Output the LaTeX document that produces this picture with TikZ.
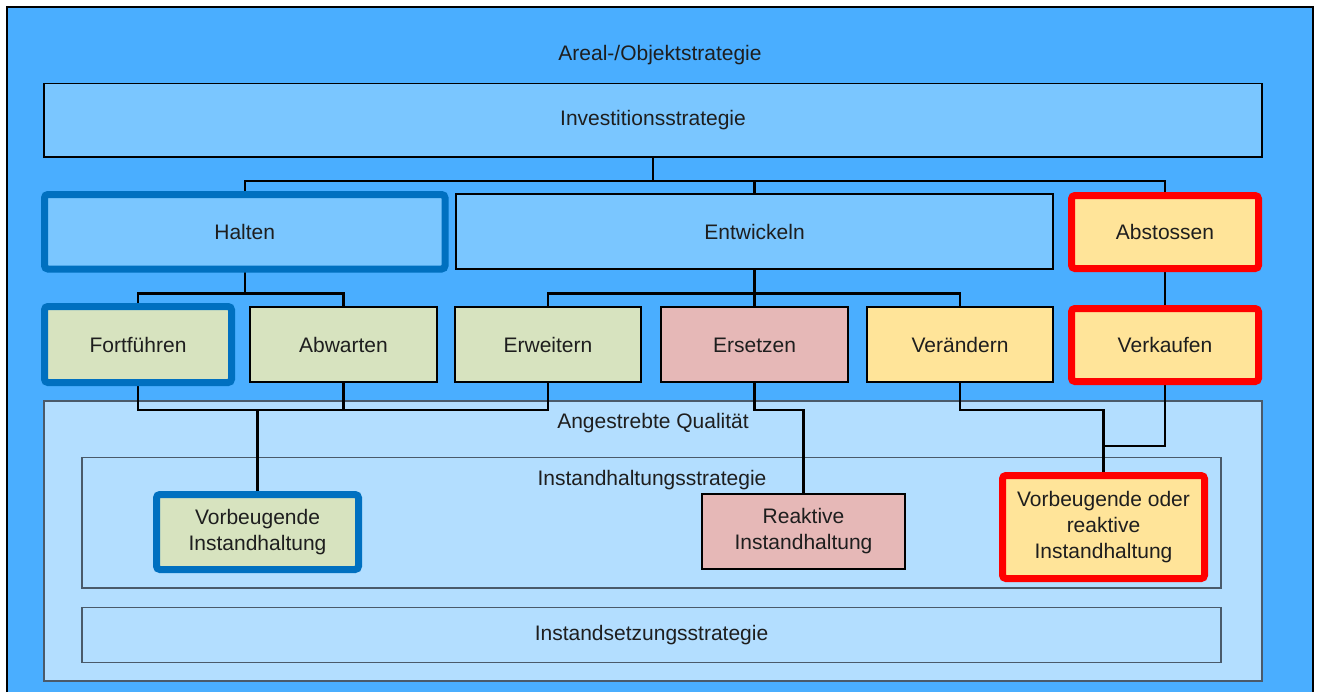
\documentclass[tikz,border=0pt]{standalone}
\usepackage{fontspec}
\setmainfont{Liberation Sans}
\usetikzlibrary{calc}
\definecolor{outerblue}{HTML}{4AAEFF}
\definecolor{midblue}{HTML}{7AC6FF}
\definecolor{paleblue}{HTML}{B3DEFF}
\definecolor{boxgreen}{HTML}{D7E3BF}
\definecolor{boxpink}{HTML}{E6B8B7}
\definecolor{boxyellow}{HTML}{FFE499}
\definecolor{thickblue}{HTML}{0070C0}
\definecolor{slate}{HTML}{4A5A6A}
\definecolor{txt}{HTML}{1E1E1E}
\pgfdeclarelayer{bg}\pgfdeclarelayer{lines}\pgfsetlayers{bg,lines,main}
\newcommand\bx[7]{\node[#6, minimum width={(#4-#2)*0.75pt}, minimum height={(#5-#3)*0.75pt}] (#1) at ({(#2+#4)/2},{(#3+#5)/2}) {#7\vphantom{l}};}
\tikzset{
  lbl/.style={font=\fontsize{15.75}{19.5}\selectfont, text=txt, inner sep=0pt, outer sep=0pt, align=center},
  thin/.style={lbl, draw=black, line width=0.8pt},
  cont/.style={lbl, draw=slate, line width=1pt, fill=paleblue},
  fatblue/.style={lbl, draw=thickblue, line width=5.25pt, rounded corners=2.5pt},
  fatred/.style={lbl, draw=red, line width=5.25pt, rounded corners=2.5pt},
  conn/.style={draw=black, line width=1.6pt},
}
\begin{document}
\begin{tikzpicture}[x=0.75pt, y=-0.75pt]
\useasboundingbox (0,0) rectangle (1319,692);
\begin{pgfonlayer}{bg}
  \fill[outerblue] (7,7) rectangle (1313,692);
  \draw[line width=1.2pt] (7,692) -- (7,7) -- (1313,7) -- (1313,692);
  \bx{inv}{44}{83.5}{1262}{157}{thin, fill=midblue}{Investitionsstrategie}
  \bx{ang}{44}{401}{1262}{681}{cont}{}
  \bx{ih}{82}{457.5}{1221}{588}{cont}{}
  \bx{is}{82}{607.5}{1221}{662.5}{cont}{Instandsetzungsstrategie}
\end{pgfonlayer}
\node[lbl] (title) at (660,55) {Areal-/Objektstrategie\vphantom{g}};
\node[lbl] (angl) at (653,423) {Angestrebte Qualität};
\node[lbl] (ihl) at (652,480) {Instandhaltungsstrategie\vphantom{A}};
% row 1
\bx{halten}{44.5}{194.5}{445}{269}{fatblue, fill=midblue}{Halten}
\bx{entw}{456}{194}{1053}{269}{thin, fill=midblue}{Entwickeln}
\bx{abst}{1071.5}{195.5}{1258.5}{268.5}{fatred, fill=boxyellow}{Abstossen}
% row 2
\bx{fort}{44.5}{306.5}{231.5}{382.5}{fatblue, fill=boxgreen}{Fortführen}
\bx{abw}{250}{307}{437}{382}{thin, fill=boxgreen}{Abwarten}
\bx{erw}{455}{307}{641}{382}{thin, fill=boxgreen}{Erweitern}
\bx{ers}{661}{307}{848}{382}{thin, fill=boxpink}{Ersetzen}
\bx{ver}{867}{307}{1053}{382}{thin, fill=boxyellow}{Verändern}
\bx{verk}{1071.5}{308.5}{1258.5}{381.5}{fatred, fill=boxyellow}{Verkaufen}
% row 3
\bx{vorb}{156.5}{494.5}{358.5}{569.5}{fatblue, fill=boxgreen}{Vorbeugende\\Instandhaltung}
\bx{reak}{702}{494}{905}{569}{thin, fill=boxpink}{Reaktive\\Instandhaltung}
\bx{vor2}{1002.5}{475.5}{1204.5}{578.5}{fatred, fill=boxyellow}{Vorbeugende oder\\reaktive\\Instandhaltung}
\coordinate (r1) at (0,181);
\coordinate (r2) at (0,293.5);
\coordinate (r3) at (0,410);
\coordinate (r4) at (0,446);
\begin{pgfonlayer}{lines}
  \draw[conn] (inv.south) -- (inv.south |- r1) -| (halten.north);
  \draw[conn] (inv.south |- r1) -| (entw.north);
  \draw[conn] (inv.south |- r1) -| (abst.north);
  \draw[conn] (halten.south) -- (halten.south |- r2) -| (fort.north);
  \draw[conn] (halten.south |- r2) -| (abw.north);
  \draw[conn] (entw.south) -- (entw.south |- r2) -| (erw.north);
  \draw[conn] (entw.south |- r2) -| (ver.north);
  \draw[conn] (entw.south) -- (ers.north);
  \draw[conn] (abst.south) -- (verk.north);
  \draw[conn] (fort.south) -- (fort.south |- r3) -| (erw.south);
  \draw[conn] (abw.south) -- (abw.south |- r3);
  \draw[conn] (vorb.north |- r3) -- (vorb.north);
  \draw[conn] (ers.south) -- (ers.south |- r3) -| (reak.north);
  \draw[conn] (ver.south) -- (ver.south |- r3) -| (vor2.north);
  \draw[conn] (verk.south) -- (verk.south |- r4) -- (vor2.north |- r4);
\end{pgfonlayer}
\end{tikzpicture}
\end{document}
